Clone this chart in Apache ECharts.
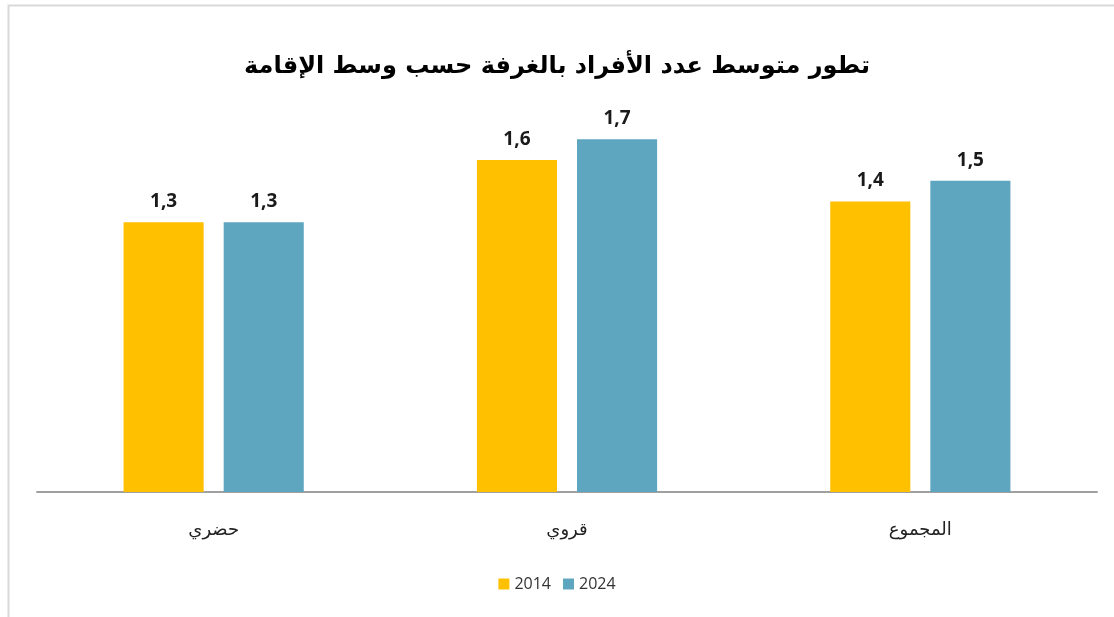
<!DOCTYPE html>
<html>
<head>
<meta charset="utf-8">
<script src="https://cdn.jsdelivr.net/npm/echarts@6/dist/echarts.min.js"></script>
<style>
  html, body { margin: 0; padding: 0; background: #fff; }
  #main { width: 1114px; height: 617px; }
</style>
</head>
<body>
<div id="main"></div>
<script>
// البيانات
var categories = ['حضري', 'قروي', 'المجموع'];
var seriesNames = ['2014', '2024'];
var values2014 = [1.3, 1.6, 1.4];
var values2024 = [1.3, 1.7, 1.5];

var myChart = echarts.init(document.getElementById('main'));

var labelOpt = {
    show: true,
    position: 'top',
    distance: 11,
    fontFamily: 'Open Sans',
    fontWeight: 'bold',
    fontSize: 19,
    color: '#1a1a1a',
    formatter: function (p) {
        return String(p.value.toFixed(1)).replace('.', ',');
    }
};

var option = {
    backgroundColor: '#fff',
    animation: false,
    graphic: [{
        type: 'rect',
        shape: { x: 8.5, y: 5.5, width: 1200, height: 700 },
        style: { fill: 'none', stroke: '#d9d9d9', lineWidth: 2 },
        z: -1
    }],
    title: {
        text: 'تطور متوسط عدد الأفراد بالغرفة حسب وسط الإقامة',
        left: 'center',
        top: 50,
        textStyle: {
            fontFamily: 'DejaVu Sans',
            fontWeight: 'bold',
            fontSize: 24,
            color: '#000'
        }
    },
    legend: {
        data: seriesNames,
        bottom: 20,
        left: 'center',
        itemWidth: 11,
        itemHeight: 11,
        itemGap: 12,
        icon: 'rect',
        textStyle: { fontFamily: 'Open Sans', fontSize: 16, color: '#333' }
    },
    grid: { left: 37, right: 17, top: 77, bottom: 125 },
    xAxis: {
        type: 'category',
        data: categories,
        axisLine: { lineStyle: { color: '#a0a0a0', width: 2 } },
        axisTick: { show: false },
        axisLabel: {
            margin: 29,
            fontFamily: 'DejaVu Sans',
            fontSize: 18,
            color: '#222'
        }
    },
    yAxis: {
        type: 'value',
        min: 0,
        max: 2,
        show: false,
        splitLine: { show: false }
    },
    series: [
        {
            name: seriesNames[0],
            type: 'bar',
            data: values2014,
            barGap: '25%',
            barCategoryGap: '49%',
            itemStyle: { color: '#FFC000' },
            label: labelOpt
        },
        {
            name: seriesNames[1],
            type: 'bar',
            data: values2024,
            barGap: '25%',
            barCategoryGap: '49%',
            itemStyle: { color: '#5EA6BF' },
            label: labelOpt
        }
    ]
};

myChart.setOption(option);
</script>
</body>
</html>
